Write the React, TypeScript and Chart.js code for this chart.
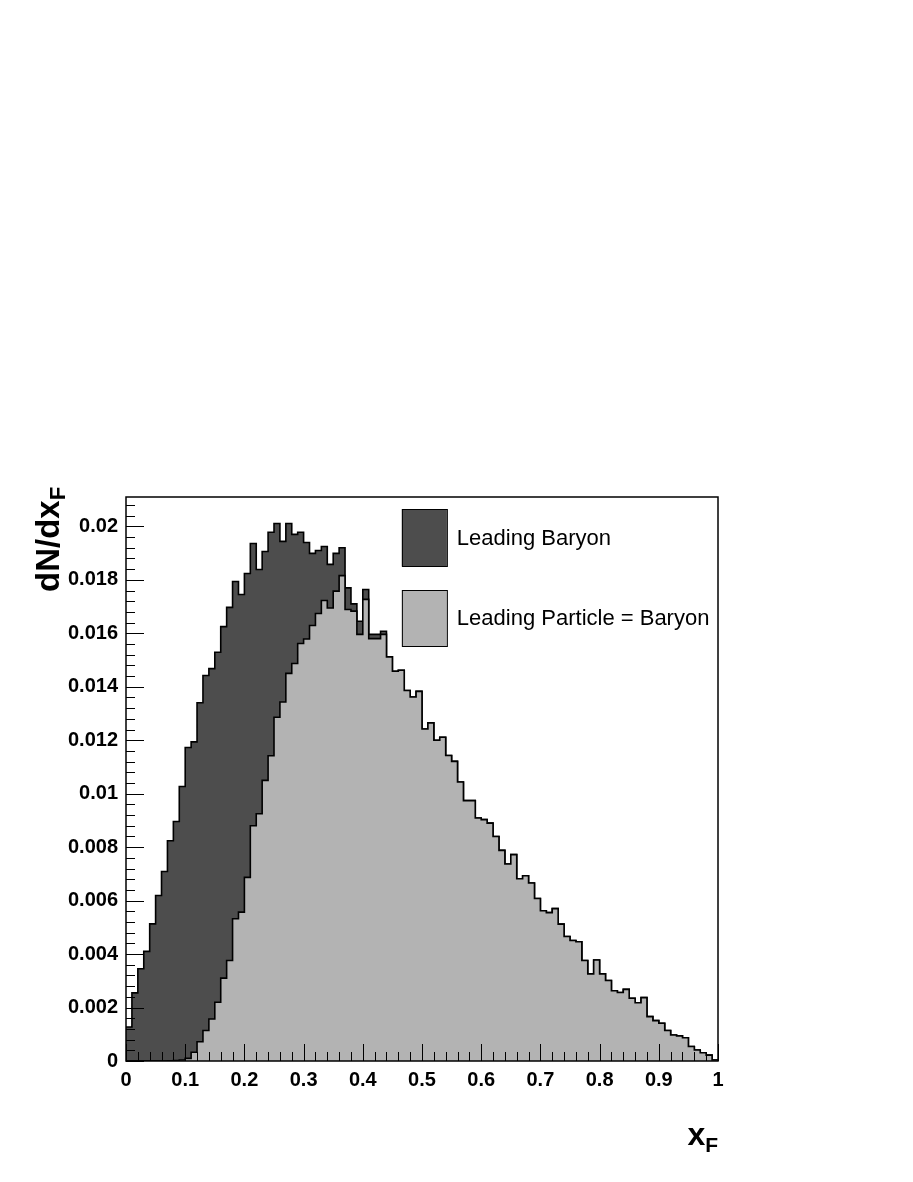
import React, { useEffect, useRef } from 'react';
import { Chart, registerables } from 'chart.js';

Chart.register(...registerables);

// Histogram binning: 100 bins on [0, 1]
const X_MIN = 0;
const X_MAX = 1;
const BIN_W = 0.01;

// dN/dx_F per bin (low edge = X_MIN + i*BIN_W)
const leadingBaryon = [
  0.00127, 0.00255, 0.00345, 0.0041, 0.00513, 0.00619, 0.00709, 0.00824, 0.00896, 0.01027,
  0.01173, 0.01194, 0.0134, 0.01442, 0.01468, 0.01529, 0.01625, 0.01697, 0.01794, 0.01745,
  0.01824, 0.01936, 0.01839, 0.01906, 0.01978, 0.02011, 0.01944, 0.02011, 0.0197, 0.01978,
  0.0194, 0.01899, 0.0191, 0.01925, 0.01858, 0.01899, 0.0192, 0.0177, 0.0171, 0.01645,
  0.01764, 0.01596, 0.01596, 0.01608, 0.01512, 0.01458, 0.01462, 0.01386, 0.01362, 0.01383,
  0.01242, 0.01265, 0.012, 0.01211, 0.01143, 0.01121, 0.01044, 0.00974, 0.00974, 0.00909,
  0.00903, 0.0089, 0.0084, 0.00788, 0.00737, 0.00772, 0.00682, 0.00693, 0.00666, 0.00608,
  0.00562, 0.00555, 0.0057, 0.00512, 0.00466, 0.00451, 0.00446, 0.00376, 0.00326, 0.00378,
  0.00326, 0.00301, 0.00263, 0.00256, 0.00268, 0.00235, 0.00218, 0.00237, 0.00166, 0.00151,
  0.00141, 0.00114, 0.00097, 0.00094, 0.00087, 0.00054, 0.00041, 0.00031, 0.00022, 0.00004,
];

const leadingParticleBaryon = [
  0, 0, 0, 0, 0, 0, 0, 0.00001, 0.00002, 0.00004,
  0.0001, 0.00033, 0.00072, 0.00114, 0.00157, 0.0022, 0.0031, 0.00376, 0.00532, 0.00557,
  0.00687, 0.0088, 0.00925, 0.0105, 0.01142, 0.01286, 0.01343, 0.0145, 0.01487, 0.01562,
  0.01579, 0.01629, 0.01674, 0.01723, 0.01695, 0.01758, 0.01816, 0.01689, 0.01683, 0.01596,
  0.01727, 0.0158, 0.0158, 0.01596, 0.01512, 0.01458, 0.01462, 0.01386, 0.01362, 0.01383,
  0.01242, 0.01265, 0.012, 0.01211, 0.01143, 0.01121, 0.01044, 0.00974, 0.00974, 0.00909,
  0.00903, 0.0089, 0.0084, 0.00788, 0.00737, 0.00772, 0.00682, 0.00693, 0.00666, 0.00608,
  0.00562, 0.00555, 0.0057, 0.00512, 0.00466, 0.00451, 0.00446, 0.00376, 0.00326, 0.00378,
  0.00326, 0.00301, 0.00263, 0.00256, 0.00268, 0.00235, 0.00218, 0.00237, 0.00166, 0.00151,
  0.00141, 0.00114, 0.00097, 0.00094, 0.00087, 0.00054, 0.00041, 0.00031, 0.00022, 0.00004,
];

const xTickLabels = ['0', '0.1', '0.2', '0.3', '0.4', '0.5', '0.6', '0.7', '0.8', '0.9', '1'];
const yTickLabels = ['0', '0.002', '0.004', '0.006', '0.008', '0.01', '0.012', '0.014', '0.016', '0.018', '0.02'];
const legendLabels = ['Leading Baryon', 'Leading Particle = Baryon'];

const Y_MAX = 0.0211;
const X_MAJOR = 0.1;
const X_MINOR = 0.02;
const Y_MAJOR = 0.002;
const Y_MINOR = 0.0004;

const DARK = '#4d4d4d';
const LIGHT = '#b3b3b3';

function toSteps(vals: number[]) {
  const pts = vals.map((v, i) => ({ x: X_MIN + i * BIN_W, y: v }));
  pts.push({ x: X_MAX, y: vals[vals.length - 1] });
  return pts;
}

const decorPlugin = {
  id: 'rootDecor',
  afterDatasetsDraw(chart: any) {
    const { ctx, chartArea: a, scales } = chart;
    const xs = scales.x;
    const ys = scales.y;
    ctx.save();
    ctx.strokeStyle = '#000';
    ctx.lineWidth = 1;
    ctx.beginPath();
    // x ticks (inward)
    const nx = Math.round((X_MAX - X_MIN) / X_MINOR);
    for (let k = 0; k <= nx; k++) {
      const v = X_MIN + k * X_MINOR;
      const px = Math.round(xs.getPixelForValue(v)) + 0.5;
      const major = k % Math.round(X_MAJOR / X_MINOR) === 0;
      const len = major ? 17 : 9;
      ctx.moveTo(px, a.bottom);
      ctx.lineTo(px, a.bottom - len);
    }
    // y ticks (inward)
    const ny = Math.floor(Y_MAX / Y_MINOR + 1e-6);
    for (let k = 0; k <= ny; k++) {
      const v = k * Y_MINOR;
      const py = Math.round(ys.getPixelForValue(v)) + 0.5;
      const major = k % Math.round(Y_MAJOR / Y_MINOR) === 0;
      const len = major ? 18 : 9;
      ctx.moveTo(a.left, py);
      ctx.lineTo(a.left + len, py);
    }
    ctx.stroke();
    // frame
    ctx.lineWidth = 1.5;
    ctx.strokeRect(a.left, a.top, a.right - a.left, a.bottom - a.top);

    // legend
    const boxX = a.left + (a.right - a.left) * 0.466;
    const boxW = 45;
    const entries = [
      { color: DARK, top: a.top + 12, h: 57, label: legendLabels[0] },
      { color: LIGHT, top: a.top + 93, h: 56, label: legendLabels[1] },
    ];
    ctx.font = '22px "Liberation Sans", Arial, sans-serif';
    ctx.textBaseline = 'middle';
    ctx.textAlign = 'left';
    entries.forEach((e) => {
      ctx.fillStyle = e.color;
      ctx.fillRect(boxX, e.top, boxW, e.h);
      ctx.lineWidth = 1;
      ctx.strokeStyle = '#000';
      ctx.strokeRect(boxX + 0.5, e.top + 0.5, boxW, e.h);
      ctx.fillStyle = '#000';
      ctx.fillText(e.label, boxX + boxW + 10, e.top + e.h / 2 + 1);
    });
    ctx.restore();
  },
  afterDraw(chart: any) {
    const { ctx, chartArea: a } = chart;
    ctx.save();
    ctx.fillStyle = '#000';
    ctx.textBaseline = 'alphabetic';
    // y title: dN/dx_F, rotated
    ctx.translate(59, 592);
    ctx.rotate(-Math.PI / 2);
    ctx.font = 'bold 33px "Liberation Sans", Arial, sans-serif';
    ctx.textAlign = 'left';
    ctx.fillText('dN/dx', 0, 0);
    const w1 = ctx.measureText('dN/dx').width;
    ctx.font = 'bold 22px "Liberation Sans", Arial, sans-serif';
    ctx.fillText('F', w1, 6);
    ctx.restore();

    // x title: x_F, right-aligned at the frame end
    ctx.save();
    ctx.fillStyle = '#000';
    ctx.textBaseline = 'alphabetic';
    ctx.textAlign = 'left';
    ctx.font = 'bold 21px "Liberation Sans", Arial, sans-serif';
    const wF = ctx.measureText('F').width;
    ctx.font = 'bold 32px "Liberation Sans", Arial, sans-serif';
    const wx = ctx.measureText('x').width;
    const startX = a.right - wF - wx;
    ctx.fillText('x', startX, 1145);
    ctx.font = 'bold 21px "Liberation Sans", Arial, sans-serif';
    ctx.fillText('F', startX + wx, 1152);
    ctx.restore();
  },
};

export default function App() {
  const ref = useRef<HTMLCanvasElement>(null);
  useEffect(() => {
    if (!ref.current) return;
    const tickFont = { family: '"Liberation Sans", Arial, sans-serif', size: 20, weight: 'bold' as const };
    const chart = new Chart(ref.current, {
      type: 'line',
      data: {
        datasets: [
          {
            label: legendLabels[0],
            data: toSteps(leadingBaryon),
            stepped: true,
            fill: 'origin',
            backgroundColor: DARK,
            borderColor: '#000',
            borderWidth: 1.6,
            pointRadius: 0,
            order: 2,
          },
          {
            label: legendLabels[1],
            data: toSteps(leadingParticleBaryon),
            stepped: true,
            fill: 'origin',
            backgroundColor: LIGHT,
            borderColor: '#000',
            borderWidth: 1.6,
            pointRadius: 0,
            order: 1,
          },
        ],
      },
      options: {
        responsive: false,
        devicePixelRatio: 1,
        animation: false,
        events: [],
        layout: { padding: { left: 0, top: 497, right: 195, bottom: 0 } },
        plugins: { legend: { display: false }, tooltip: { enabled: false } },
        scales: {
          x: {
            type: 'linear',
            min: X_MIN,
            max: X_MAX,
            bounds: 'data',
            grid: { display: false, drawTicks: false },
            border: { display: false },
            ticks: {
              stepSize: X_MAJOR,
              autoSkip: false,
              maxRotation: 0,
              padding: 7,
              color: '#000',
              font: tickFont,
              callback: (_v: any, i: number) => xTickLabels[i],
            },
            afterFit: (s: any) => {
              s.height = 121;
            },
          },
          y: {
            type: 'linear',
            min: 0,
            max: Y_MAX,
            bounds: 'data',
            grid: { display: false, drawTicks: false },
            border: { display: false },
            ticks: {
              stepSize: Y_MAJOR,
              includeBounds: false,
              autoSkip: false,
              padding: 8,
              color: '#000',
              font: tickFont,
              callback: (_v: any, i: number) => yTickLabels[i],
            },
            afterFit: (s: any) => {
              s.width = 126;
            },
          },
        },
      },
      plugins: [decorPlugin],
    } as any);
    return () => chart.destroy();
  }, []);
  return (
    <div style={{ position: 'absolute', left: 0, top: 0, width: 913, height: 1182, background: '#fff' }}>
      <canvas ref={ref} width={913} height={1182} style={{ display: 'block', width: 913, height: 1182 }} />
    </div>
  );
}
